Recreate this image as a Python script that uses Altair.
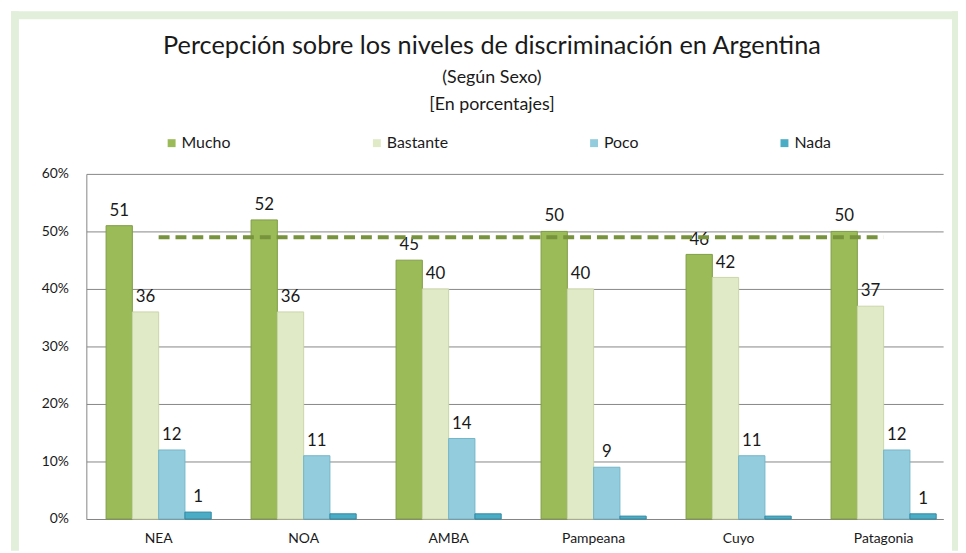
import altair as alt
import pandas as pd

regions = ["NEA", "NOA", "AMBA", "Pampeana", "Cuyo", "Patagonia"]
series = ["Mucho", "Bastante", "Poco", "Nada"]
mucho = [51, 52, 45, 50, 46, 50]
bastante = [36, 36, 40, 40, 42, 37]
poco = [12, 11, 14, 9, 11, 12]
nada = [1.2, 0.9, 0.9, 0.5, 0.5, 0.9]
nada_labels = ["1", "", "", "", "", "1"]
reference = [49, 49, 49, 49, 49, 49]
y_ticks = [0, 10, 20, 30, 40, 50, 60]
colors = ["#9bbb59", "#e1eac7", "#93cddd", "#4bacc6"]
strokes = ["#7f9d44", "#c9d6a8", "#72b5c8", "#2f8aa3"]

rows = []
for i, r in enumerate(regions):
    for s, vals in zip(series, [mucho, bastante, poco, nada]):
        v = vals[i]
        lab = nada_labels[i] if s == "Nada" else str(round(v))
        rows.append({"region": r, "serie": s, "valor": v, "etiqueta": lab})
df = pd.DataFrame(rows)
line_df = pd.DataFrame({"region": regions, "valor": reference})
one = pd.DataFrame({"k": [0]})

FONT = "Lato"
FRAME = "#e2efda"

x_main = alt.X(
    "region:N", sort=regions,
    scale=alt.Scale(paddingInner=0.275, paddingOuter=0.092, align=0.74),
    axis=alt.Axis(title=None, labelAngle=0, ticks=False, domainColor="#868686",
                  labelFont=FONT, labelFontSize=14, labelColor="#1a1a1a", labelPadding=13),
)
x_plain = alt.X("region:N", sort=regions)
xoff = alt.XOffset("serie:N", sort=series, scale=alt.Scale(paddingInner=0, paddingOuter=0))
y_main = alt.Y(
    "valor:Q", scale=alt.Scale(domain=[0, 60]),
    axis=alt.Axis(title=None, values=y_ticks, labelExpr="datum.value + '%'", ticks=False,
                  domainColor="#868686", gridColor="#868686", labelFont=FONT, labelFontSize=14,
                  labelColor="#1a1a1a", labelPadding=18),
)

bars = alt.Chart(df).mark_bar(strokeWidth=1).encode(
    x=x_main,
    xOffset=xoff,
    y=y_main,
    color=alt.Color(
        "serie:N", sort=series, scale=alt.Scale(domain=series, range=colors),
        legend=alt.Legend(orient="none", legendX=78, legendY=-39, direction="horizontal",
                          title=None, symbolType="square", symbolSize=64, columnPadding=139,
                          labelFont=FONT, labelFontSize=16, labelColor="#1a1a1a", labelOffset=2,
                          padding=0, symbolStrokeWidth=0, columns=4),
    ),
    stroke=alt.Stroke("serie:N", sort=series, scale=alt.Scale(domain=series, range=strokes), legend=None),
)

labels = alt.Chart(df).mark_text(dy=-15, baseline="middle", font=FONT, fontSize=17, color="#1a1a1a").encode(
    x=x_plain, xOffset=xoff, y=alt.Y("valor:Q"), text="etiqueta:N"
)

ref_line = alt.Chart(line_df).mark_line(color="#77933c", strokeWidth=4, strokeDash=[11, 6]).encode(
    x=x_plain, y=alt.Y("valor:Q")
)

frame_top = alt.Chart(one).mark_rect(color=FRAME).encode(
    x=alt.value(-76), x2=alt.value(879), y=alt.value(-164), y2=alt.value(-156))
frame_left = alt.Chart(one).mark_rect(color=FRAME).encode(
    x=alt.value(-76), x2=alt.value(-68), y=alt.value(-164), y2=alt.value(380))
frame_right = alt.Chart(one).mark_rect(color=FRAME).encode(
    x=alt.value(873), x2=alt.value(879), y=alt.value(-164), y2=alt.value(380))

chart = alt.layer(frame_top, frame_left, frame_right, bars, labels, ref_line).properties(
    width=864, height=348,
    autosize="none",
    padding={"left": 79, "top": 165, "right": 15, "bottom": 32},
    title=alt.TitleParams(
        text="Percepción sobre los niveles de discriminación en Argentina",
        subtitle=["(Según Sexo)", "[En porcentajes]"],
        font=FONT, fontSize=25.5, fontWeight="normal", color="#1a1a1a",
        subtitleFont=FONT, subtitleFontSize=18, subtitleColor="#1a1a1a",
        subtitleLineHeight=28, subtitlePadding=9,
        anchor="middle", dx=-23, offset=-104,
    ),
).configure(background="white").configure_view(stroke=None)

chart.save("out.html", embed_options={"renderer": "svg", "actions": False})
